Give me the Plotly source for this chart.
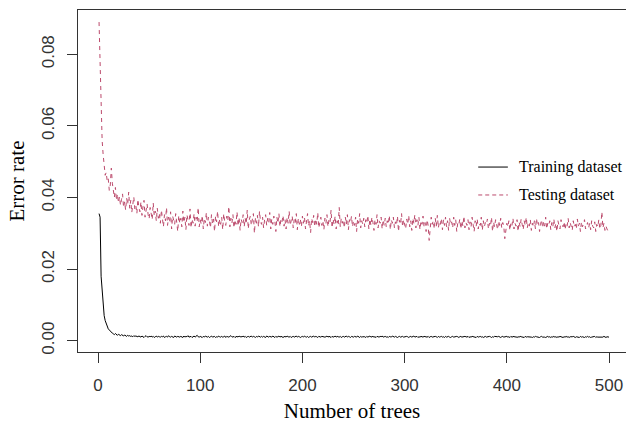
import plotly.graph_objects as go

trees = list(range(1, 501))

testing_err = [
    .0890,.0745,.0610,.0560,.0520,.0490,.0462,.0470,.0445,.0452,.0420,.0435,.0482,.0440,.0412,.0400,.0428,.0392,.0410,.0385,
    .0402,.0378,.0395,.0410,.0372,.0388,.0365,.0398,.0380,.0415,.0370,.0392,.0358,.0385,.0402,.0368,.0378,.0355,.0395,.0372,
    .0360,.0388,.0350,.0375,.0392,.0345,.0368,.0382,.0352,.0340,.0372,.0358,.0338,.0385,.0348,.0362,.0335,.0370,.0342,.0355,
    .0328,.0365,.0340,.0318,.0352,.0335,.0372,.0322,.0345,.0330,.0360,.0312,.0348,.0338,.0325,.0355,.0332,.0305,.0350,.0328,
    .0342,.0318,.0362,.0330,.0345,.0310,.0352,.0335,.0322,.0368,.0315,.0340,.0328,.0355,.0320,.0345,.0332,.0372,.0318,.0338,
    .0325,.0350,.0312,.0342,.0330,.0358,.0320,.0345,.0335,.0315,.0352,.0328,.0340,.0305,.0348,.0332,.0362,.0318,.0338,.0325,
    .0345,.0310,.0355,.0330,.0322,.0348,.0335,.0375,.0318,.0342,.0328,.0352,.0315,.0338,.0325,.0360,.0320,.0345,.0308,.0340,
    .0330,.0352,.0318,.0342,.0326,.0365,.0312,.0338,.0348,.0322,.0335,.0355,.0300,.0342,.0328,.0350,.0318,.0362,.0332,.0325,
    .0345,.0315,.0338,.0352,.0322,.0342,.0330,.0358,.0312,.0340,.0325,.0348,.0335,.0305,.0345,.0328,.0355,.0318,.0340,.0332,
    .0350,.0320,.0338,.0312,.0345,.0328,.0362,.0322,.0335,.0348,.0315,.0340,.0330,.0355,.0310,.0342,.0325,.0338,.0318,.0348,
    .0328,.0345,.0312,.0338,.0355,.0320,.0335,.0302,.0342,.0330,.0350,.0318,.0340,.0325,.0358,.0315,.0338,.0345,.0322,.0335,
    .0310,.0342,.0328,.0352,.0318,.0338,.0330,.0365,.0315,.0340,.0325,.0348,.0312,.0335,.0322,.0372,.0318,.0342,.0328,.0338,
    .0315,.0345,.0325,.0352,.0310,.0338,.0330,.0348,.0318,.0335,.0322,.0345,.0305,.0340,.0328,.0355,.0315,.0335,.0325,.0342,
    .0318,.0338,.0328,.0350,.0312,.0340,.0322,.0345,.0330,.0308,.0338,.0325,.0352,.0315,.0335,.0328,.0345,.0312,.0338,.0322,
    .0342,.0318,.0335,.0325,.0350,.0310,.0338,.0328,.0345,.0315,.0332,.0322,.0348,.0305,.0336,.0325,.0355,.0318,.0338,.0328,
    .0312,.0340,.0325,.0350,.0318,.0335,.0308,.0342,.0328,.0352,.0315,.0338,.0322,.0345,.0310,.0335,.0325,.0348,.0318,.0330,
    .0305,.0338,.0322,.0280,.0318,.0345,.0325,.0335,.0312,.0342,.0320,.0350,.0315,.0332,.0325,.0342,.0310,.0338,.0322,.0345,
    .0318,.0335,.0308,.0342,.0325,.0332,.0315,.0345,.0322,.0338,.0305,.0330,.0325,.0340,.0312,.0335,.0320,.0348,.0315,.0330,
    .0322,.0338,.0310,.0332,.0318,.0345,.0325,.0305,.0335,.0320,.0340,.0312,.0328,.0322,.0345,.0308,.0335,.0318,.0330,.0325,
    .0340,.0312,.0328,.0320,.0345,.0305,.0332,.0318,.0338,.0325,.0310,.0335,.0322,.0342,.0315,.0330,.0320,.0285,.0312,.0328,
    .0318,.0335,.0308,.0330,.0322,.0342,.0312,.0328,.0320,.0338,.0305,.0332,.0318,.0340,.0325,.0310,.0335,.0322,.0345,.0315,
    .0330,.0320,.0338,.0308,.0328,.0318,.0335,.0312,.0342,.0322,.0330,.0305,.0325,.0338,.0315,.0332,.0320,.0345,.0312,.0328,
    .0322,.0335,.0310,.0330,.0318,.0340,.0315,.0328,.0305,.0335,.0322,.0312,.0338,.0325,.0318,.0332,.0310,.0328,.0320,.0342,
    .0315,.0330,.0322,.0308,.0335,.0318,.0325,.0312,.0340,.0320,.0328,.0305,.0332,.0318,.0325,.0338,.0312,.0322,.0330,.0315,
    .0328,.0310,.0335,.0320,.0315,.0332,.0305,.0325,.0318,.0338,.0312,.0322,.0360,.0315,.0328,.0308,.0320,.0312,.0305,.0300,
]

training_err = [
    .0355,.0345,.0180,.0132,.0098,.0070,.0056,.0046,.0040,.0033,.0030,.0026,.0024,.0021,.0019,.0017,.0020,.0016,.0015,.0018,
    .0016,.0014,.0017,.0015,.0013,.0016,.0014,.0012,.0015,.0013,.0014,.0012,.0013,.0011,.0014,.0012,.0013,.0012,.0011,.0013,
    .0012,.0010,.0013,.0011,.0009,.0012,.0014,.0011,.0010,.0012,.0011,.0013,.0010,.0012,.0009,.0011,.0013,.0010,.0012,.0011,
    .0010,.0012,.0011,.0013,.0009,.0011,.0012,.0010,.0014,.0011,.0010,.0012,.0011,.0009,.0013,.0011,.0010,.0012,.0011,.0010,
    .0012,.0011,.0009,.0013,.0010,.0012,.0011,.0014,.0010,.0011,.0012,.0009,.0011,.0013,.0010,.0012,.0015,.0011,.0010,.0012,
    .0011,.0009,.0012,.0010,.0013,.0011,.0010,.0012,.0009,.0011,.0013,.0010,.0011,.0012,.0009,.0011,.0010,.0013,.0011,.0010,
    .0012,.0010,.0011,.0013,.0009,.0012,.0011,.0010,.0012,.0014,.0011,.0010,.0012,.0009,.0011,.0012,.0010,.0013,.0011,.0010,
    .0011,.0013,.0010,.0012,.0009,.0011,.0012,.0010,.0011,.0013,.0010,.0012,.0011,.0009,.0012,.0010,.0013,.0011,.0010,.0012,
    .0010,.0012,.0011,.0009,.0013,.0011,.0010,.0012,.0011,.0010,.0013,.0011,.0009,.0012,.0010,.0011,.0013,.0010,.0012,.0011,
    .0009,.0011,.0012,.0010,.0013,.0011,.0010,.0012,.0009,.0011,.0012,.0010,.0011,.0013,.0010,.0012,.0011,.0009,.0011,.0012,
    .0010,.0013,.0011,.0010,.0012,.0009,.0011,.0012,.0010,.0011,.0013,.0010,.0012,.0011,.0009,.0012,.0011,.0010,.0012,.0011,
    .0012,.0010,.0011,.0013,.0010,.0012,.0011,.0009,.0012,.0010,.0011,.0013,.0010,.0012,.0011,.0010,.0012,.0009,.0011,.0012,
    .0010,.0011,.0013,.0010,.0012,.0011,.0009,.0012,.0011,.0010,.0012,.0011,.0010,.0013,.0011,.0009,.0012,.0010,.0011,.0012,
    .0011,.0009,.0012,.0010,.0011,.0013,.0010,.0011,.0012,.0010,.0011,.0009,.0012,.0011,.0010,.0012,.0011,.0013,.0010,.0011,
    .0012,.0010,.0011,.0009,.0012,.0011,.0010,.0013,.0011,.0010,.0012,.0011,.0009,.0011,.0012,.0010,.0011,.0012,.0010,.0011,
    .0010,.0012,.0011,.0009,.0011,.0012,.0010,.0011,.0013,.0010,.0011,.0012,.0009,.0011,.0010,.0012,.0011,.0010,.0012,.0011,
    .0011,.0010,.0012,.0009,.0011,.0012,.0010,.0011,.0010,.0012,.0011,.0009,.0012,.0010,.0011,.0012,.0010,.0011,.0009,.0012,
    .0010,.0011,.0012,.0010,.0009,.0011,.0012,.0010,.0011,.0010,.0012,.0011,.0009,.0011,.0012,.0010,.0011,.0010,.0012,.0011,
    .0010,.0012,.0009,.0011,.0010,.0012,.0011,.0010,.0011,.0009,.0012,.0010,.0011,.0012,.0010,.0011,.0009,.0011,.0012,.0010,
    .0011,.0010,.0012,.0011,.0009,.0011,.0010,.0012,.0011,.0010,.0011,.0012,.0010,.0009,.0011,.0012,.0010,.0011,.0010,.0012,
    .0010,.0011,.0009,.0012,.0010,.0011,.0012,.0010,.0011,.0009,.0011,.0010,.0012,.0011,.0010,.0011,.0009,.0012,.0010,.0011,
    .0011,.0010,.0012,.0010,.0009,.0011,.0010,.0012,.0011,.0010,.0011,.0009,.0011,.0012,.0010,.0011,.0010,.0009,.0011,.0012,
    .0010,.0011,.0009,.0011,.0010,.0012,.0010,.0011,.0009,.0011,.0010,.0012,.0011,.0010,.0009,.0011,.0010,.0012,.0010,.0011,
    .0009,.0011,.0010,.0011,.0012,.0010,.0009,.0011,.0010,.0011,.0009,.0012,.0010,.0011,.0010,.0009,.0011,.0010,.0012,.0010,
    .0011,.0009,.0010,.0011,.0010,.0012,.0009,.0011,.0010,.0010,.0011,.0009,.0011,.0010,.0012,.0010,.0009,.0011,.0010,.0010,
]

series_names = ["Training dataset", "Testing dataset"]
x_ticks = [0, 100, 200, 300, 400, 500]
y_ticks = [0.00, 0.02, 0.04, 0.06, 0.08]
y_tick_labels = ["0.00", "0.02", "0.04", "0.06", "0.08"]

TEST_COLOR = "#bc4a6c"
SERIF = "Liberation Serif, Times New Roman, serif"
SANS = "Liberation Sans, Arial, sans-serif"

fig = go.Figure()
fig.add_trace(go.Scatter(
    x=trees, y=training_err, mode="lines", name=series_names[0],
    line=dict(color="black", width=1), showlegend=False,
))
fig.add_trace(go.Scatter(
    x=trees, y=testing_err, mode="lines", name=series_names[1],
    line=dict(color=TEST_COLOR, width=1, dash="4px,4px"), showlegend=False,
))

# legend drawn manually (R style, no box)
leg_y = [0.0485, 0.0407]
fig.add_shape(type="line", xref="x", yref="y", x0=372, x1=401, y0=leg_y[0], y1=leg_y[0],
              line=dict(color="black", width=1))
fig.add_shape(type="line", xref="x", yref="y", x0=372, x1=401, y0=leg_y[1], y1=leg_y[1],
              line=dict(color=TEST_COLOR, width=1, dash="4px,3px"))
for name, yy in zip(series_names, leg_y):
    fig.add_annotation(x=410, y=yy, xref="x", yref="y", text=name, showarrow=False,
                       xanchor="left", yanchor="middle",
                       font=dict(family=SERIF, size=16, color="black"))

fig.update_layout(
    width=626, height=423,
    margin=dict(l=78, r=0, t=10, b=71, autoexpand=False),
    paper_bgcolor="white", plot_bgcolor="white",
    xaxis=dict(
        range=[-19.6, 516.6], tickvals=x_ticks, ticktext=[str(v) for v in x_ticks],
        ticks="outside", ticklen=10, tickwidth=1, tickcolor="#333",
        showline=True, linecolor="#333", linewidth=1, mirror=True,
        showgrid=False, zeroline=False, automargin=False, ticklabelstandoff=8,
        tickfont=dict(family=SANS, size=17, color="#333"),
        title=dict(text="Number of trees", font=dict(family=SERIF, size=21, color="black"), standoff=15),
    ),
    yaxis=dict(
        range=[-0.00316, 0.09237], tickvals=y_ticks, ticktext=y_tick_labels,
        ticks="outside", ticklen=10, tickwidth=1, tickcolor="#333",
        showline=True, linecolor="#333", linewidth=1, mirror=False,
        showgrid=False, zeroline=False, tickangle=-90, automargin=False, ticklabelstandoff=6,
        tickfont=dict(family=SANS, size=17, color="#333"),
        title=dict(text="Error rate", font=dict(family=SERIF, size=21, color="black"), standoff=8),
    ),
)

# remove the page's default body margin so the 626x423 figure fills the window exactly
fig.write_html(
    "out.html",
    config={"displayModeBar": False},
    post_script="document.body.style.margin='0';document.body.style.overflow='hidden';",
)
